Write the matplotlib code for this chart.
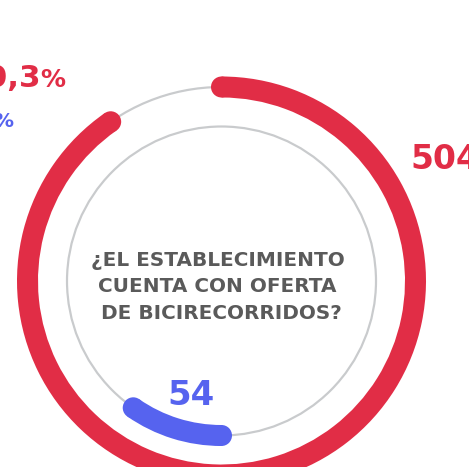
import numpy as np
import matplotlib
matplotlib.use("Agg")
import matplotlib.pyplot as plt
from matplotlib.patches import Wedge, Circle

# ---- data ----
labels = ["Sí", "No"]
counts = [504, 54]
percent_values = ["90,3", "9,7"]
question_lines = ["¿EL ESTABLECIMIENTO", "CUENTA CON OFERTA", " DE BICIRECORRIDOS?"]

RED = "#E12D46"
BLUE = "#5663EF"
TRACK = "#C9CBCD"
TEXT = "#5A5A5A"

W, H, DPI = 469, 467, 100
fig = plt.figure(figsize=(W / DPI, H / DPI), dpi=DPI)
ax = fig.add_axes([0, 0, 1, 1])
ax.set_xlim(0, W)
ax.set_ylim(H, 0)
ax.axis("off")

def px(v):
    return v * 72.0 / DPI

plt.rcParams["font.family"] = ["DejaVu Sans"]

cx, cy = 221.5, 281.0
R_out, R_in = 194.0, 154.5
stroke = 21.0

total = sum(counts)
fracs = [c / total for c in counts]

def ring_arc(r, start_deg, span_deg, color):
    # angles measured clockwise from 12 o'clock on screen (y axis inverted)
    t1, t2 = start_deg - 90, start_deg + span_deg - 90
    ax.add_patch(Wedge((cx, cy), r + stroke / 2, t1, t2, width=stroke,
                       facecolor=color, edgecolor="none", zorder=2))
    for t in (t1, t2):
        a = np.radians(t)
        ax.add_patch(Circle((cx + r * np.cos(a), cy + r * np.sin(a)), stroke / 2,
                            facecolor=color, edgecolor="none", zorder=2))

# tracks
for r in (R_out, R_in):
    ax.add_patch(Circle((cx, cy), r, facecolor="none", edgecolor=TRACK,
                        lw=px(2.2), zorder=1))
# value arcs
ring_arc(R_out, 0, 360 * fracs[0], RED)
ring_arc(R_in, 180, 360 * fracs[1], BLUE)

# center question
ax.text(cx - 4, 287, "\n".join(question_lines), ha="center", va="center",
        fontsize=px(20), color=TEXT, fontweight="semibold", linespacing=1.47,
        multialignment="center")

# values
ax.text(410, 169, str(counts[0]), ha="left", va="baseline", fontsize=px(33),
        color=RED, fontweight="semibold")
ax.text(191, 405, str(counts[1]), ha="center", va="baseline", fontsize=px(34),
        color=BLUE, fontweight="semibold")

# percentages (partly cropped on the left)
ax.text(41, 87, percent_values[0], ha="right", va="baseline", fontsize=px(31),
        color=RED, fontweight="semibold")
ax.text(40, 87, "%", ha="left", va="baseline", fontsize=px(25),
        color=RED, fontweight="semibold")
ax.text(-6, 127, percent_values[1], ha="right", va="baseline", fontsize=px(25),
        color=BLUE, fontweight="semibold")
ax.text(-7, 127, "%", ha="left", va="baseline", fontsize=px(20),
        color=BLUE, fontweight="semibold")

fig.savefig("out.png", dpi=DPI, facecolor="white")
